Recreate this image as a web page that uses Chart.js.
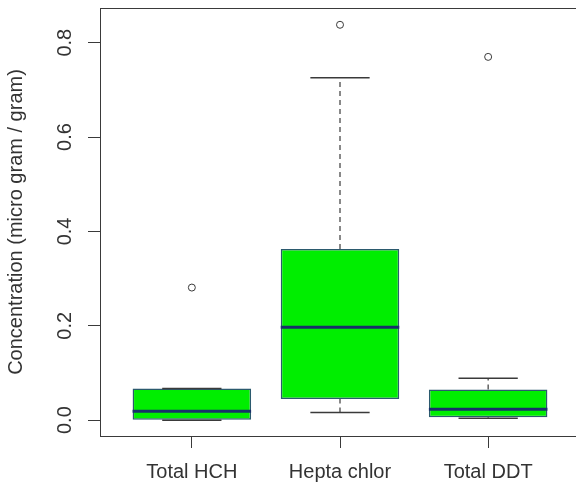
<!DOCTYPE html>
<html>
<head>
<meta charset="utf-8">
<script src="https://cdn.jsdelivr.net/npm/chart.js@4"></script>
<style>
  html, body { margin: 0; padding: 0; background: #ffffff; overflow: hidden; width: 576px; height: 484px; }
  #boxChart { display: block; }
</style>
</head>
<body>
<!-- o quadro do gráfico original continua um pouco além da borda direita -->
<canvas id="boxChart" width="585" height="484"></canvas>
<script>
// Valores (box plot por grupo)
const categories = ['Total HCH', 'Hepta chlor', 'Total DDT'];
const categoryPositions = [1, 2, 3];
const lowerWhisker = [0.0, 0.016, 0.004];
const q1Values = [0.0, 0.045, 0.006];
const medianValues = [0.019, 0.197, 0.023];
const q3Values = [0.067, 0.363, 0.065];
const upperWhisker = [0.067, 0.726, 0.089];
const outlierValues = [[0.281], [0.838], [0.770]];
const yTickValues = [0.0, 0.2, 0.4, 0.6, 0.8];

const BOX_HALF = 0.4;
const CAP_HALF = 0.2;
const lineColor = '#3a3a3a';
const textColor = '#333333';
const fontFamily = 'Liberation Sans, Arial, sans-serif';

// Segmentos separados por pontos nulos
function segments(builder) {
  const pts = [];
  categoryPositions.forEach((x, i) => {
    builder(x, i).forEach(seg => {
      pts.push(seg[0], seg[1], { x: x, y: null });
    });
  });
  return pts;
}

const whiskerStems = segments((x, i) => [
  [{ x: x, y: q3Values[i] }, { x: x, y: upperWhisker[i] }],
  [{ x: x, y: lowerWhisker[i] }, { x: x, y: q1Values[i] }]
]);
const whiskerCaps = segments((x, i) => [
  [{ x: x - CAP_HALF, y: upperWhisker[i] }, { x: x + CAP_HALF, y: upperWhisker[i] }],
  [{ x: x - CAP_HALF, y: lowerWhisker[i] }, { x: x + CAP_HALF, y: lowerWhisker[i] }]
]);
const medianLines = segments((x, i) => [
  [{ x: x - BOX_HALF, y: medianValues[i] }, { x: x + BOX_HALF, y: medianValues[i] }]
]);
const outlierPoints = [];
categoryPositions.forEach((x, i) => {
  outlierValues[i].forEach(v => outlierPoints.push({ x: x, y: v }));
});

// Sem preenchimento extra das escalas
function zeroPadding(axis) {
  axis.paddingTop = 0;
  axis.paddingBottom = 0;
  axis.paddingLeft = 0;
  axis.paddingRight = 0;
}

// Moldura superior do gráfico (estilo R)
const framePlugin = {
  id: 'frame',
  afterDraw(chart) {
    const { ctx, chartArea } = chart;
    ctx.save();
    ctx.strokeStyle = lineColor;
    ctx.lineWidth = 1;
    ctx.beginPath();
    ctx.moveTo(chartArea.left, chartArea.top + 0.5);
    ctx.lineTo(chartArea.right, chartArea.top + 0.5);
    ctx.stroke();
    ctx.restore();
  }
};

const ctx = document.getElementById('boxChart');
new Chart(ctx, {
  data: {
    datasets: [
      {
        type: 'bar',
        data: categoryPositions.map((x, i) => ({ x: x, y: [q1Values[i], q3Values[i]] })),
        backgroundColor: '#00ee00',
        borderColor: '#2b5a6e',
        borderWidth: 1.5,
        borderSkipped: false,
        categoryPercentage: 1.0,
        barPercentage: 0.8,
        order: 3
      },
      {
        type: 'scatter',
        data: whiskerStems,
        showLine: true,
        spanGaps: false,
        borderColor: lineColor,
        borderWidth: 1.2,
        borderDash: [5, 4],
        pointRadius: 0,
        order: 4
      },
      {
        type: 'scatter',
        data: whiskerCaps,
        showLine: true,
        spanGaps: false,
        borderColor: lineColor,
        borderWidth: 1.5,
        pointRadius: 0,
        order: 2
      },
      {
        type: 'scatter',
        data: medianLines,
        showLine: true,
        spanGaps: false,
        borderColor: '#18306a',
        borderWidth: 3,
        pointRadius: 0,
        order: 1
      },
      {
        type: 'scatter',
        data: outlierPoints,
        pointRadius: 3.5,
        pointStyle: 'circle',
        backgroundColor: 'rgba(255,255,255,0)',
        borderColor: lineColor,
        borderWidth: 1,
        order: 0
      }
    ]
  },
  options: {
    responsive: false,
    animation: false,
    layout: { padding: { top: 8, right: 0, left: 0, bottom: 0 } },
    plugins: {
      legend: { display: false },
      tooltip: { enabled: false }
    },
    scales: {
      x: {
        type: 'linear',
        position: 'bottom',
        offset: false,
        min: 0.38,
        max: 3.62,
        afterBuildTicks: axis => { axis.ticks = categoryPositions.map(v => ({ value: v })); },
        afterFit: axis => { axis.height = 48; zeroPadding(axis); },
        ticks: {
          autoSkip: false,
          maxRotation: 0,
          padding: 12,
          color: textColor,
          font: { family: fontFamily, size: 20 },
          callback: v => categories[categoryPositions.indexOf(v)] || ''
        },
        grid: { offset: false, drawOnChartArea: false, drawTicks: true, tickLength: 12, color: lineColor },
        border: { display: true, color: lineColor, width: 1 }
      },
      y: {
        type: 'linear',
        min: -0.0336,
        max: 0.8736,
        afterBuildTicks: axis => { axis.ticks = yTickValues.map(v => ({ value: v })); },
        afterFit: axis => { axis.width = 100; zeroPadding(axis); },
        ticks: {
          minRotation: 90,
          maxRotation: 90,
          crossAlign: 'center',
          padding: 9,
          color: textColor,
          font: { family: fontFamily, size: 20 },
          callback: v => Number(v).toFixed(1)
        },
        grid: { drawOnChartArea: false, drawTicks: true, tickLength: 12, color: lineColor },
        border: { display: true, color: lineColor, width: 1 },
        title: {
          display: true,
          text: 'Concentration (micro gram / gram)',
          color: textColor,
          font: { family: fontFamily, size: 20 },
          padding: { top: 4, bottom: 0 }
        }
      }
    }
  },
  plugins: [framePlugin]
});
</script>
</body>
</html>
